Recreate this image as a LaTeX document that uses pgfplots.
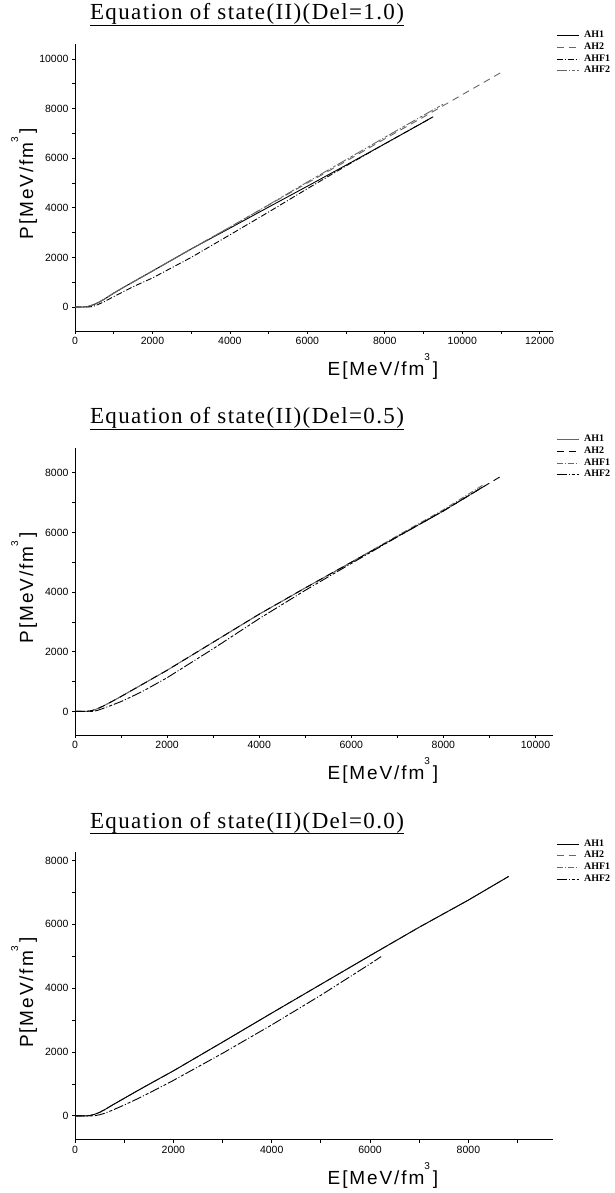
\documentclass[border=0pt]{standalone}
\usepackage{fontspec}
\setmainfont{Liberation Serif}
\newfontfamily\titlefont{Liberation Serif}[LetterSpace=6]
\newfontfamily\labfont{Liberation Sans}[LetterSpace=10]
\newfontfamily\tickfont{Liberation Sans}
\usepackage{pgfplots}
\pgfplotsset{compat=1.18}

\definecolor{lgray}{gray}{0.4}
\tikzset{
  ah1/.style={solid},
  ah2/.style={dash pattern=on 7pt off 5pt},
  ahf1/.style={dash pattern=on 6pt off 2pt on 1pt off 2pt},
  ahf2/.style={dash pattern=on 10pt off 2pt on 1pt off 2pt on 3pt off 2pt},
}
\pgfplotsset{
  eos/.style={
    scale only axis, width=478pt, height=287pt,
    axis lines=left, axis line style={-, line width=0.8pt},
    tick align=outside, tick style={black, line width=0.8pt},
    major tick length=3pt, minor tick length=3pt,
    minor tick num=1, xmin=0,
    xtick distance=2000, ytick distance=2000,
    scaled ticks=false,
    tick label style={font=\tickfont\fontsize{10.5}{12}\selectfont},
    /pgf/number format/assume math mode=true,
    /pgf/number format/1000 sep={},
    clip=false,
    every axis plot/.append style={line width=0.9pt},
    legend style={at={(1,1)}, anchor=north west, xshift=3pt, yshift=14.4pt,
      draw=none, fill=none, inner sep=0pt, row sep=0pt,
      /tikz/every odd column/.append style={column sep=5pt},
      nodes={inner sep=0pt, text height=8pt, text depth=3.7pt,
        font=\bfseries\fontsize{10}{10}\selectfont}},
    legend cell align=left,
    legend image code/.code={\draw[##1, line width=0.9pt] (0pt,0pt) -- (22pt,0pt);},
  }
}

\newcommand{\xlab}{\labfont\fontsize{19}{19}\selectfont E[MeV/fm\raisebox{15pt}{\fontsize{10}{10}\selectfont 3}\hspace{3pt}]}
\newcommand{\ylab}{\labfont\fontsize{19}{19}\selectfont P[MeV/fm\raisebox{15pt}{\fontsize{10}{10}\selectfont 3}\hspace{3pt}]}

\begin{document}
\begin{tikzpicture}[x=1pt,y=1pt]
\useasboundingbox (0,0) rectangle (614,1193);

% ---------------- Del = 1.0 ----------------
\begin{axis}[eos, at={(75pt,862pt)}, anchor=south west,
  xmax=12343, ymin=-966, ymax=10604]
\addplot[ah1, black] coordinates {
(0,0) (100,0) (200,0) (300,10) (400,50) (500,110) (600,180) (750,310) (1000,560)
(1250,790) (1500,1010) (2000,1450) (3000,2340) (4000,3180) (5000,4030)
(6000,4870) (7000,5720) (8000,6580) (9000,7450) (9250,7670)};
\addlegendentry{AH1}
\addplot[ah2, lgray] coordinates {
(0,0) (100,0) (200,0) (300,10) (400,50) (500,110) (600,180) (750,310) (1000,560)
(1250,790) (1500,1010) (2000,1450) (3000,2340) (4000,3220) (5000,4110)
(6000,5000) (7000,5880) (8000,6780) (9000,7660) (10000,8560) (11040,9490)};
\addlegendentry{AH2}
\addplot[ahf1, black] coordinates {
(0,0) (200,0) (350,0) (450,20) (550,70) (750,210) (1000,420) (1250,620)
(1500,820) (2000,1170) (3000,2000) (4000,2910) (5000,3830) (6000,4770)
(7000,5690) (8000,6580) (9000,7450) (9200,7630)};
\addlegendentry{AHF1}
\addplot[ahf2, lgray] coordinates {
(0,0) (100,0) (200,0) (300,10) (400,50) (500,110) (600,180) (750,310) (1000,560)
(1250,790) (1500,1010) (2000,1450) (3000,2340) (4000,3220) (5000,4120)
(6000,5040) (7000,5940) (8000,6840) (9000,7730) (9500,8170)};
\addlegendentry{AHF2}
\end{axis}

% ---------------- Del = 0.5 ----------------
\begin{axis}[eos, at={(75pt,458pt)}, anchor=south west,
  xmax=10380, ymin=-790, ymax=8830]
% grey curves first, black ones on top
\addplot[ah1, lgray, forget plot] coordinates {
(0,0) (100,0) (250,0) (350,20) (450,70) (500,100) (600,170) (750,290) (1000,500)
(1250,720) (1500,940) (2000,1380) (3000,2320) (4000,3260) (5000,4140)
(6000,5000) (7000,5860) (8000,6720) (8900,7560)};
\addplot[ahf1, lgray, forget plot] coordinates {
(0,0) (100,0) (250,0) (350,20) (450,70) (500,100) (600,170) (750,290) (1000,500)
(1250,720) (1500,940) (2000,1380) (3000,2320) (4000,3260) (5000,4140)
(6000,5000) (7000,5890) (8000,6760) (8850,7580)};
\addplot[ah2, black, forget plot] coordinates {
(0,0) (100,0) (250,0) (350,20) (450,70) (500,100) (600,170) (750,290) (1000,500)
(1250,720) (1500,940) (2000,1380) (3000,2320) (4000,3260) (5000,4140)
(6000,5000) (7000,5860) (8000,6720) (8900,7560) (9260,7890)};
\addplot[ahf2, black, forget plot] coordinates {
(0,0) (300,0) (400,5) (500,40) (600,95) (750,180) (1000,330) (1250,510)
(1500,700) (2000,1130) (3000,2100) (4000,3110) (5000,4060) (6000,4960)
(7000,5850) (8000,6720) (8850,7520)};
\addlegendimage{ah1, lgray}\addlegendentry{AH1}
\addlegendimage{ah2, black}\addlegendentry{AH2}
\addlegendimage{ahf1, lgray}\addlegendentry{AHF1}
\addlegendimage{ahf2, black}\addlegendentry{AHF2}
\end{axis}

% ---------------- Del = 0.0 ----------------
\begin{axis}[eos, at={(75pt,53.5pt)}, anchor=south west,
  xmax=9720, ymin=-740, ymax=8250]
\addplot[ah2, lgray, forget plot] coordinates {
(0,0) (100,0) (230,0) (300,10) (400,50) (500,110) (600,190) (750,330) (1000,550)
(1250,770) (1500,985) (2000,1410) (3000,2310) (4000,3220) (5000,4120)
(6000,5020) (7000,5910) (8000,6760) (8817,7500)};
\addplot[ahf1, lgray, forget plot] coordinates {
(0,0) (100,0) (230,0) (300,10) (400,50) (500,110) (600,190) (750,330) (1000,550)
(1250,770) (1500,985) (2000,1410) (3000,2310) (4000,3220) (5000,4120)
(6000,5020) (7000,5910) (8000,6760) (8817,7500)};
\addplot[ah1, black, forget plot] coordinates {
(0,0) (100,0) (230,0) (300,10) (400,50) (500,110) (600,190) (750,330) (1000,550)
(1250,770) (1500,985) (2000,1410) (3000,2310) (4000,3220) (5000,4120)
(6000,5020) (7000,5910) (8000,6760) (8817,7500)};
\addplot[ahf2, black, forget plot] coordinates {
(0,0) (300,0) (400,5) (500,35) (600,80) (750,170) (1000,340) (1250,520)
(1500,710) (2000,1110) (3000,1960) (4000,2850) (5000,3780) (6000,4760)
(6224,4990)};
\addlegendimage{ah1, black}\addlegendentry{AH1}
\addlegendimage{ah2, lgray}\addlegendentry{AH2}
\addlegendimage{ahf1, lgray}\addlegendentry{AHF1}
\addlegendimage{ahf2, black}\addlegendentry{AHF2}
\end{axis}

% titles and axis labels
\foreach \b/\t in {331/1.0, 735/0.5, 1139.5/0.0}{
  \node[anchor=base, inner sep=0pt, font=\titlefont\fontsize{23}{25}\selectfont]
    (tt) at (247, 1193-\b+311) {Equation of state(II)(Del=\t)};
  \draw[line width=0.8pt] ([yshift=-5pt]tt.base west) -- ([yshift=-5pt]tt.base east);
  \node[anchor=base, inner sep=0pt] at (383, 1193-\b-45) {\xlab};
  \node[anchor=base, inner sep=0pt, rotate=90] at (33, 1193-\b+147) {\ylab};
}
\end{tikzpicture}
\end{document}
